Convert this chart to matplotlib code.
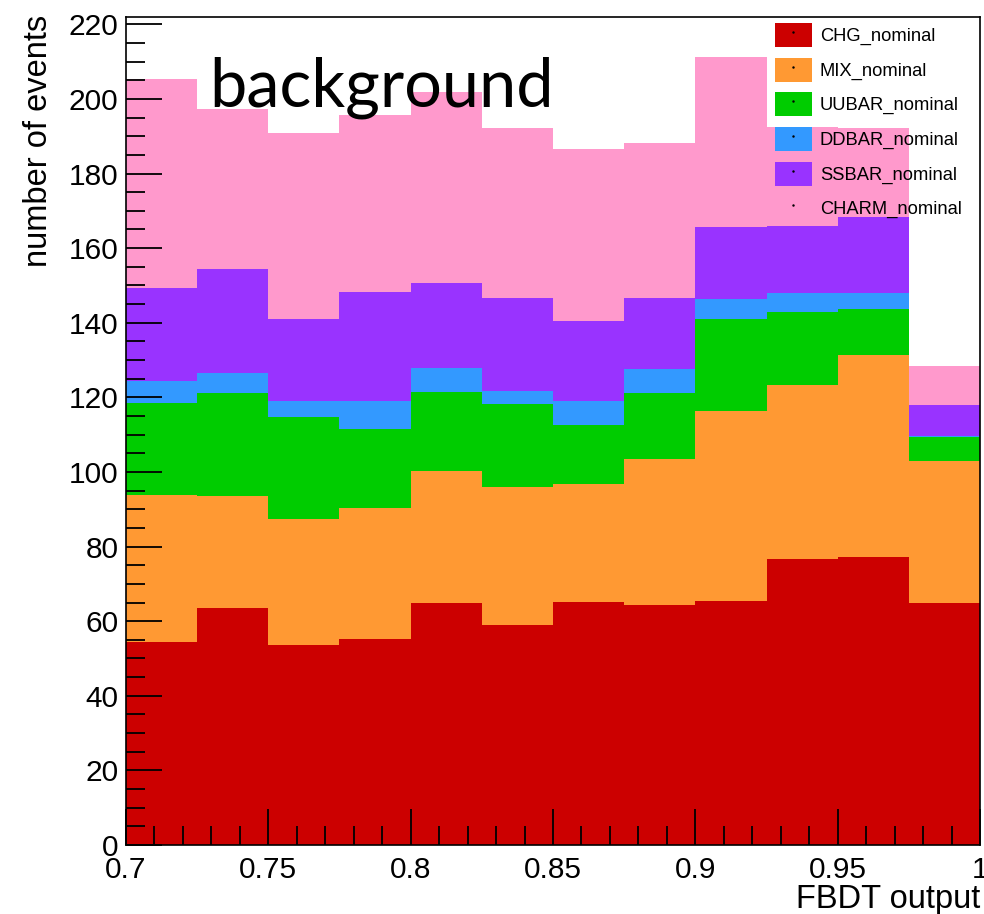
import numpy as np
import matplotlib
matplotlib.use('Agg')
import matplotlib.pyplot as plt
from matplotlib.patches import Patch
from matplotlib.lines import Line2D
from matplotlib.ticker import MultipleLocator, FuncFormatter

# ------------------ Data --------------------

binEdges = [0.7, 0.725, 0.75, 0.775, 0.8, 0.825, 0.85, 0.875, 0.9, 0.925, 0.95, 0.975, 1.0]

chg   = [54.3, 63.4, 53.6, 55.1, 64.8, 59.0, 65.1, 64.4, 65.5, 76.6, 77.3, 64.8]
mix   = [39.5, 30.2, 33.8, 35.2, 35.5, 37.0, 31.6, 39.1, 50.9, 46.6, 54.1, 38.1]
uubar = [24.8, 27.5, 27.3, 21.1, 21.1, 22.2, 15.8, 17.6, 24.5, 19.8, 12.2, 6.5]
ddbar = [5.8, 5.4, 4.3, 7.6, 6.5, 3.6, 6.5, 6.5, 5.4, 4.9, 4.3, 0.3]
ssbar = [25.0, 28.0, 21.9, 29.3, 22.7, 24.8, 21.5, 19.0, 19.3, 18.1, 20.5, 8.2]
charm = [56.0, 42.7, 49.9, 47.5, 51.2, 45.5, 46.0, 41.7, 45.7, 26.6, 23.9, 10.5]

labels = ['CHG_nominal', 'MIX_nominal', 'UUBAR_nominal',
          'DDBAR_nominal', 'SSBAR_nominal', 'CHARM_nominal']
colors = ['#cc0000', '#ff9933', '#00cc00', '#3399ff', '#9933ff', '#ff99cc']

# ------------------ Plot --------------------

plt.rcParams['font.family'] = ['Liberation Sans', 'DejaVu Sans']

fig = plt.figure(figsize=(9.84, 9.14), dpi=100)
ax = fig.add_axes([0.128, 0.0755, 0.868, 0.9055])

series = [chg, mix, uubar, ddbar, ssbar, charm]
base = np.zeros(len(chg))
for vals, col in zip(series, colors):
    top = base + np.array(vals)
    ax.stairs(top, binEdges, baseline=base, fill=True, color=col, lw=0)
    base = top

ax.set_xlim(0.7, 1.0)
ax.set_ylim(0, 1.05 * base.max())

ax.xaxis.set_major_locator(MultipleLocator(0.05))
ax.xaxis.set_minor_locator(MultipleLocator(0.01))
ax.yaxis.set_major_locator(MultipleLocator(20))
ax.yaxis.set_minor_locator(MultipleLocator(5))
ax.xaxis.set_major_formatter(FuncFormatter(lambda v, p: '%g' % round(v, 3)))

ax.tick_params(which='both', direction='in', top=False, right=False,
               labelsize=21.5, color='black', width=1.3)
ax.tick_params(which='major', length=26)
ax.tick_params(which='minor', length=14)
ax.tick_params(axis='y', pad=5.5)
ax.tick_params(axis='x', pad=8)
for s in ax.spines.values():
    s.set_linewidth(1.2)
ax.set_axisbelow(False)

ax.set_ylabel('number of events', fontsize=23.5)
ax.yaxis.set_label_coords(-0.0845, 1.003)
ax.yaxis.label.set_horizontalalignment('right')
ax.set_xlabel('FBDT output', fontsize=23.5)
ax.xaxis.set_label_coords(1.0, -0.076)
ax.xaxis.label.set_horizontalalignment('right')
ax.xaxis.label.set_verticalalignment('baseline')

fig.text(0.213, 0.884, 'background', fontsize=48, family='Lato',
         ha='left', va='baseline')

# legend: filled boxes with a small dot, last entry dot only
handles = []
for i, col in enumerate(colors):
    dot = Line2D([], [], ls='none', marker='.', ms=1.5, color='black')
    if i < 5:
        handles.append((Patch(facecolor=col, edgecolor='none'), dot))
    else:
        handles.append(dot)
leg = fig.legend(handles, labels, loc='upper left', bbox_to_anchor=(0.780, 0.983),
                 frameon=False, fontsize=13.2, handlelength=2.02, handleheight=1.64,
                 labelspacing=0.58, handletextpad=0.44, borderaxespad=0)

fig.savefig('out.png', dpi=100)
